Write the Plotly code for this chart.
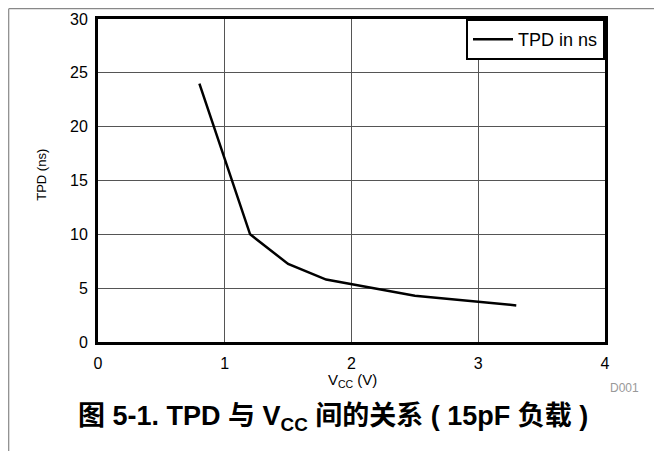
import plotly.graph_objects as go

vcc = [0.8, 1.0, 1.2, 1.5, 1.8, 2.5, 3.3]
tpd = [24.0, 17.0, 10.0, 7.25, 5.8, 4.3, 3.4]
x_ticks = [0, 1, 2, 3, 4]
y_ticks = [0, 5, 10, 15, 20, 25, 30]
series_name = "TPD in ns"

# page is offset by the default 8px body margin
OFF = 8
W, H = 662 - OFF, 451 - OFF
L, R, T, B = 98 - OFF, 57, 19 - OFF, 108.5
pw = W - L - R
ph = H - T - B

def px_x(p):  # p in page pixels
    return (p - OFF - L) / pw

def px_y(p):
    return (H - B - (p - OFF)) / ph

FONT = "Liberation Sans, Arial, Noto Sans CJK SC, sans-serif"

fig = go.Figure()
fig.add_trace(go.Scatter(x=vcc, y=tpd, mode="lines", name=series_name,
                         line=dict(color="black", width=2.5)))

axis_common = dict(showline=True, linecolor="black", linewidth=3, mirror=True,
                   showgrid=True, gridcolor="#555555", gridwidth=1, automargin=False,
                   zeroline=False, ticks="", tickfont=dict(size=16, color="black", family=FONT))

fig.update_xaxes(range=[0, 4], tickvals=x_ticks, ticklabelstandoff=5, **axis_common)
fig.update_yaxes(range=[0, 30], tickvals=y_ticks, ticklabelstandoff=4, **axis_common)

def ann(text, x, y, size, color="black", angle=0):
    return dict(text=text, xref="paper", yref="paper", x=px_x(x), y=px_y(y),
                xanchor="center", yanchor="middle", showarrow=False, textangle=angle,
                font=dict(size=size, color=color, family=FONT))

fig.update_layout(
    width=W, height=H,
    margin=dict(l=L, r=R, t=T, b=B, pad=0, autoexpand=False),
    paper_bgcolor="white", plot_bgcolor="white",
    font=dict(family=FONT, color="black"),
    showlegend=True,
    legend=dict(x=1, y=1, xanchor="right", yanchor="top",
                bgcolor="white", bordercolor="black", borderwidth=2,
                font=dict(size=18, family=FONT), itemwidth=40),
    annotations=[
        ann("V<sub>CC</sub> (V)", 352, 381, 15),
        ann("TPD (ns)", 42, 175, 13, angle=-90),
        ann("D001", 624, 389, 12, color="#999999"),
        ann("<b>图 5-1. TPD 与 V<sub>CC</sub> 间的关系 ( 15pF 负载 )</b>", 333, 419, 27),
    ],
    shapes=[
        dict(type="line", xref="paper", yref="paper",
             x0=px_x(OFF + 0.7), x1=px_x(OFF + 0.7), y0=px_y(451 + 5), y1=px_y(OFF + 0.7),
             line=dict(color="#888888", width=1.2)),
        dict(type="line", xref="paper", yref="paper",
             x0=px_x(OFF + 0.7), x1=px_x(662 + 5), y0=px_y(OFF + 0.7), y1=px_y(OFF + 0.7),
             line=dict(color="#888888", width=1.2)),
    ],
)

fig.write_html("out.html")
